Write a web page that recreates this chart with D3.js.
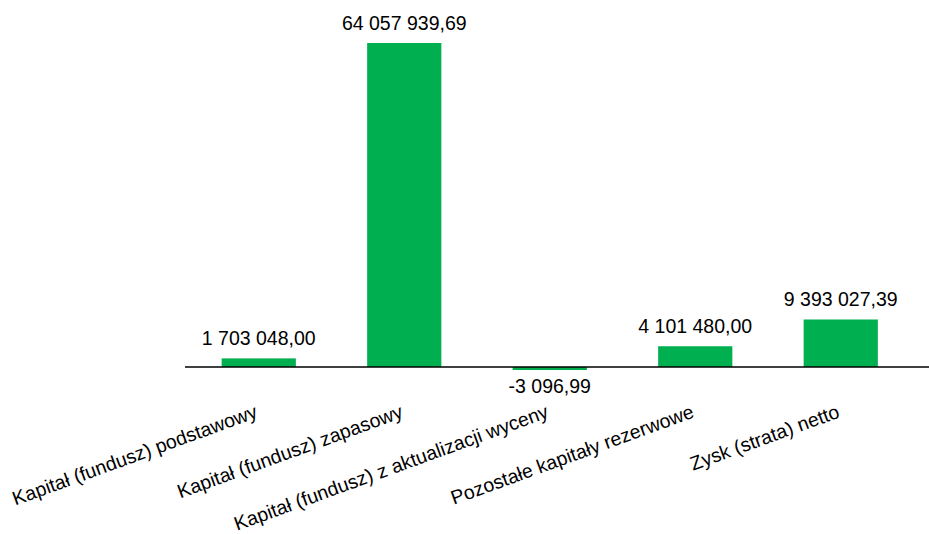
<!DOCTYPE html>
<html>
<head>
<meta charset="utf-8">
<script src="https://cdn.jsdelivr.net/npm/d3@7"></script>
<style>
  html, body { margin: 0; padding: 0; background: #fff; }
  #chart { width: 929px; height: 534px; }
</style>
</head>
<body>
<div id="chart"></div>
<script>
const categories = [
  "Kapitał (fundusz) podstawowy",
  "Kapitał (fundusz) zapasowy",
  "Kapitał (fundusz) z aktualizacji wyceny",
  "Pozostałe kapitały rezerwowe",
  "Zysk (strata) netto"
];
const values = [1703048.00, 64057939.69, -3096.99, 4101480.00, 9393027.39];

function draw() {
  const w = 929, h = 534;
  const baseY = 367;

  const plLocale = d3.formatLocale({ decimal: ",", thousands: " ", grouping: [3], currency: ["", " zł"], minus: "-" });
  const fmt = plLocale.format(",.2f");

  const data = categories.map((c, i) => ({ name: c, value: values[i] }));

  const x = d3.scaleBand()
    .domain(categories)
    .range([186, 913.5])
    .paddingInner(0.49)
    .paddingOuter(0.245);

  const y = d3.scaleLinear()
    .domain([0, d3.max(values)])
    .range([baseY, 43]);

  const svg = d3.select("#chart")
    .append("svg")
    .attr("width", w)
    .attr("height", h)
    .style("font-family", "'Liberation Sans', Arial, sans-serif");

  // bars
  svg.selectAll("rect.bar")
    .data(data)
    .join("rect")
    .attr("class", "bar")
    .attr("x", d => x(d.name))
    .attr("width", x.bandwidth())
    .attr("y", d => d.value >= 0 ? y(d.value) : baseY)
    .attr("height", d => Math.max(3, Math.abs(y(d.value) - y(0))))
    .attr("fill", "#00B050");

  // baseline
  svg.append("line")
    .attr("x1", 185)
    .attr("x2", w)
    .attr("y1", y(0))
    .attr("y2", y(0))
    .attr("stroke", "#000")
    .attr("stroke-width", 1.5);

  // value labels
  svg.selectAll("text.val")
    .data(data)
    .join("text")
    .attr("class", "val")
    .attr("x", d => x(d.name) + x.bandwidth() / 2)
    .attr("y", d => d.value >= 0 ? y(d.value) - 13 : baseY + 3 + 23)
    .attr("text-anchor", "middle")
    .attr("fill", "#000")
    .style("font-size", "19.5px")
    .text(d => fmt(d.value));

  // category labels
  svg.selectAll("text.cat")
    .data(data)
    .join("text")
    .attr("class", "cat")
    .attr("transform", d => `translate(${x(d.name) + x.bandwidth() / 2},417) rotate(-20)`)
    .attr("text-anchor", "end")
    .attr("fill", "#000")
    .style("font-size", "19.5px")
    .text(d => d.name);
}

draw();
</script>
</body>
</html>
